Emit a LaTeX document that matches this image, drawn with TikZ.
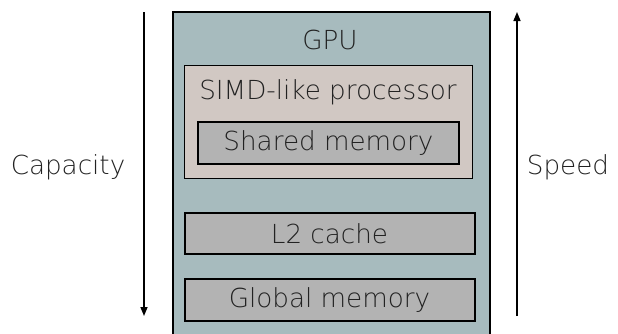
\documentclass[tikz,border=0pt]{standalone}
\usepackage{fontspec}
\setmainfont{DejaVu Sans ExtraLight}
\usetikzlibrary{arrows.meta}
\definecolor{gpufill}{HTML}{A7BBBE}
\definecolor{simdfill}{HTML}{D1C8C3}
\definecolor{memfill}{HTML}{B3B3B3}
\definecolor{txt}{HTML}{222222}
\tikzset{
  box/.style={draw=black, rectangle, inner sep=0pt, anchor=north west},
  lbl/.style={text=txt, font=\fontsize{26.2}{30}\selectfont, inner sep=0pt},
  axis/.style={draw=black, line width=1.5pt, -{Triangle[length=9pt,width=7pt]}}
}
\begin{document}
\begin{tikzpicture}[x=1pt,y=-1pt]
\useasboundingbox (0,0) rectangle (618,333);
\node[box, fill=gpufill, line width=2pt, minimum width=317pt, minimum height=340pt] (gpu) at (171.5,11) {};
\node[box, fill=simdfill, line width=1.3pt, minimum width=288pt, minimum height=113pt] (simd) at (184,65) {};
\node[box, fill=memfill, line width=2pt, minimum width=261pt, minimum height=42pt] (shared) at (197,121) {};
\node[box, fill=memfill, line width=2pt, minimum width=290pt, minimum height=41pt] (l2) at (183.5,212) {};
\node[box, fill=memfill, line width=2pt, minimum width=290pt, minimum height=41.5pt] (global) at (183.5,278) {};
\node[lbl] (gputxt) at (330,40) {GPU};
\node[lbl] (simdtxt) at (328,92) {SIMD-like processor};
\node[lbl] at (shared.center) {Shared memory};
\node[lbl] at (l2.center) {L2 cache};
\node[lbl] at (global.center) {Global memory};
\node[lbl] (cap) at (68,167) {Capacity};
\node[lbl] (speed) at (568,167) {Speed};
\coordinate (ctop) at (144,12);
\coordinate (cbot) at (144,316);
\coordinate (sbot) at (517,316);
\coordinate (stop) at (517,12);
\draw[axis] (ctop) -- (cbot);
\draw[axis] (sbot) -- (stop);
\end{tikzpicture}
\end{document}
